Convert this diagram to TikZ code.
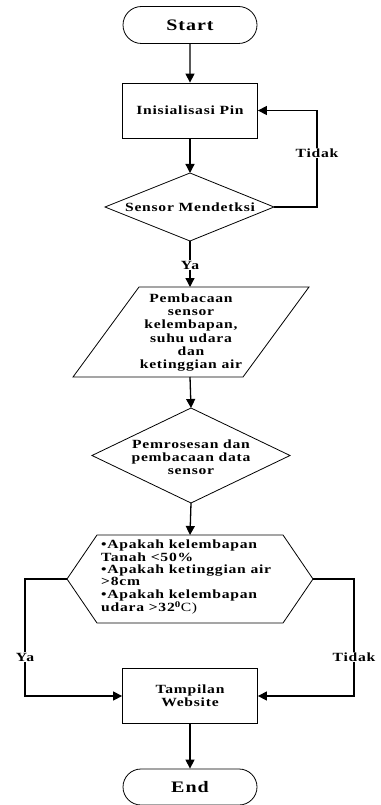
\documentclass[tikz,border=0pt]{standalone}
\usepackage{fontspec}
\setmainfont{Liberation Serif}[FakeStretch=1.25,LetterSpace=6]
\usetikzlibrary{arrows.meta,shapes.misc}
\begin{document}
\begin{tikzpicture}[x=1pt,y=-1pt,
  every node/.style={font=\bfseries\fontsize{12.5}{13.2}\selectfont, align=center, inner sep=1pt},
  arr/.style={line width=1.3pt,-{Triangle[width=9pt,length=9pt]}},
  outline/.style={line width=0.8pt},
  term/.style={draw,line width=0.8pt,rounded rectangle,minimum width=136pt,minimum height=37pt,font=\bfseries\fontsize{16}{18}\selectfont},
  procbox/.style={draw,line width=0.8pt,rectangle,minimum width=135pt,minimum height=55pt},
  lbl/.style={fill=white,inner sep=1pt}]
\useasboundingbox (0,0) rectangle (380,805);
\node[term] (start) at (190,25) {Start};
\node[procbox] (init) at (190,110.5) {Inisialisasi Pin};
% decision 1
\coordinate (s1t) at (190,173); \coordinate (s1r) at (274,207);
\coordinate (s1b) at (190,241); \coordinate (s1l) at (105,207);
\draw[outline] (s1t) -- (s1r) -- (s1b) -- (s1l) -- cycle;
\node (sens) at (190,207) {Sensor Mendetksi};
% parallelogram
\coordinate (p1) at (139,287); \coordinate (p2) at (309,287);
\coordinate (p3) at (243,377); \coordinate (p4) at (73,377);
\draw[outline] (p1) -- (p2) -- (p3) -- (p4) -- cycle;
\coordinate (bacatop) at (190,287);
\coordinate (bacabot) at (190,377);
\node (baca) at (191,332.5) {Pembacaan\\sensor\\kelembapan,\\suhu udara\\dan\\ketinggian air};
% decision 2
\coordinate (s2t) at (191,408); \coordinate (s2r) at (290,455.5);
\coordinate (s2b) at (191,503); \coordinate (s2l) at (92,455.5);
\draw[outline] (s2t) -- (s2r) -- (s2b) -- (s2l) -- cycle;
\node (proc) at (191,457) {Pemrosesan dan\\pembacaan data\\sensor};
% hexagon
\coordinate (h1) at (97,535); \coordinate (h2) at (283,535);
\coordinate (hexr) at (313,579); \coordinate (h4) at (283,623);
\coordinate (h5) at (97,623); \coordinate (hexl) at (67,579);
\draw[outline] (h1) -- (h2) -- (hexr) -- (h4) -- (h5) -- (hexl) -- cycle;
\coordinate (hextop) at (190,535);
\node[align=left,anchor=north west,font=\bfseries\fontsize{12.5}{12.3}\selectfont] (hext) at (100,539) {\textbullet Apakah kelembapan\\Tanah <50\%\\\textbullet Apakah ketinggian air\\>8cm\\\textbullet Apakah kelembapan\\udara >32\textsuperscript{0}\textmd{C)}};
\node[procbox] (web) at (190,696) {Tampilan\\Website};
\node[term,minimum height=36pt] (end) at (190,787) {End};
% connectors
\draw[arr] (start) -- (init);
\draw[arr] (init) -- (s1t);
\draw[arr] (s1r) -- (317,207) -- (317,110.5) -- (init.east);
\node[lbl] (tidak1) at (317,153) {Tidak};
\draw[arr] (s1b) -- (bacatop);
\node[lbl] (ya1) at (190,265) {Ya};
\draw[arr] (bacabot) -- (s2t);
\draw[arr] (s2b) -- (hextop);
\draw[arr] (hexl) -- (25,579) -- (25,696) -- (web.west);
\draw[arr] (hexr) -- (354,579) -- (354,696) -- (web.east);
\node[lbl] (ya2) at (25,657) {Ya};
\node[lbl] (tidak2) at (354,657) {Tidak};
\draw[arr] (web) -- (end);
\end{tikzpicture}
\end{document}
